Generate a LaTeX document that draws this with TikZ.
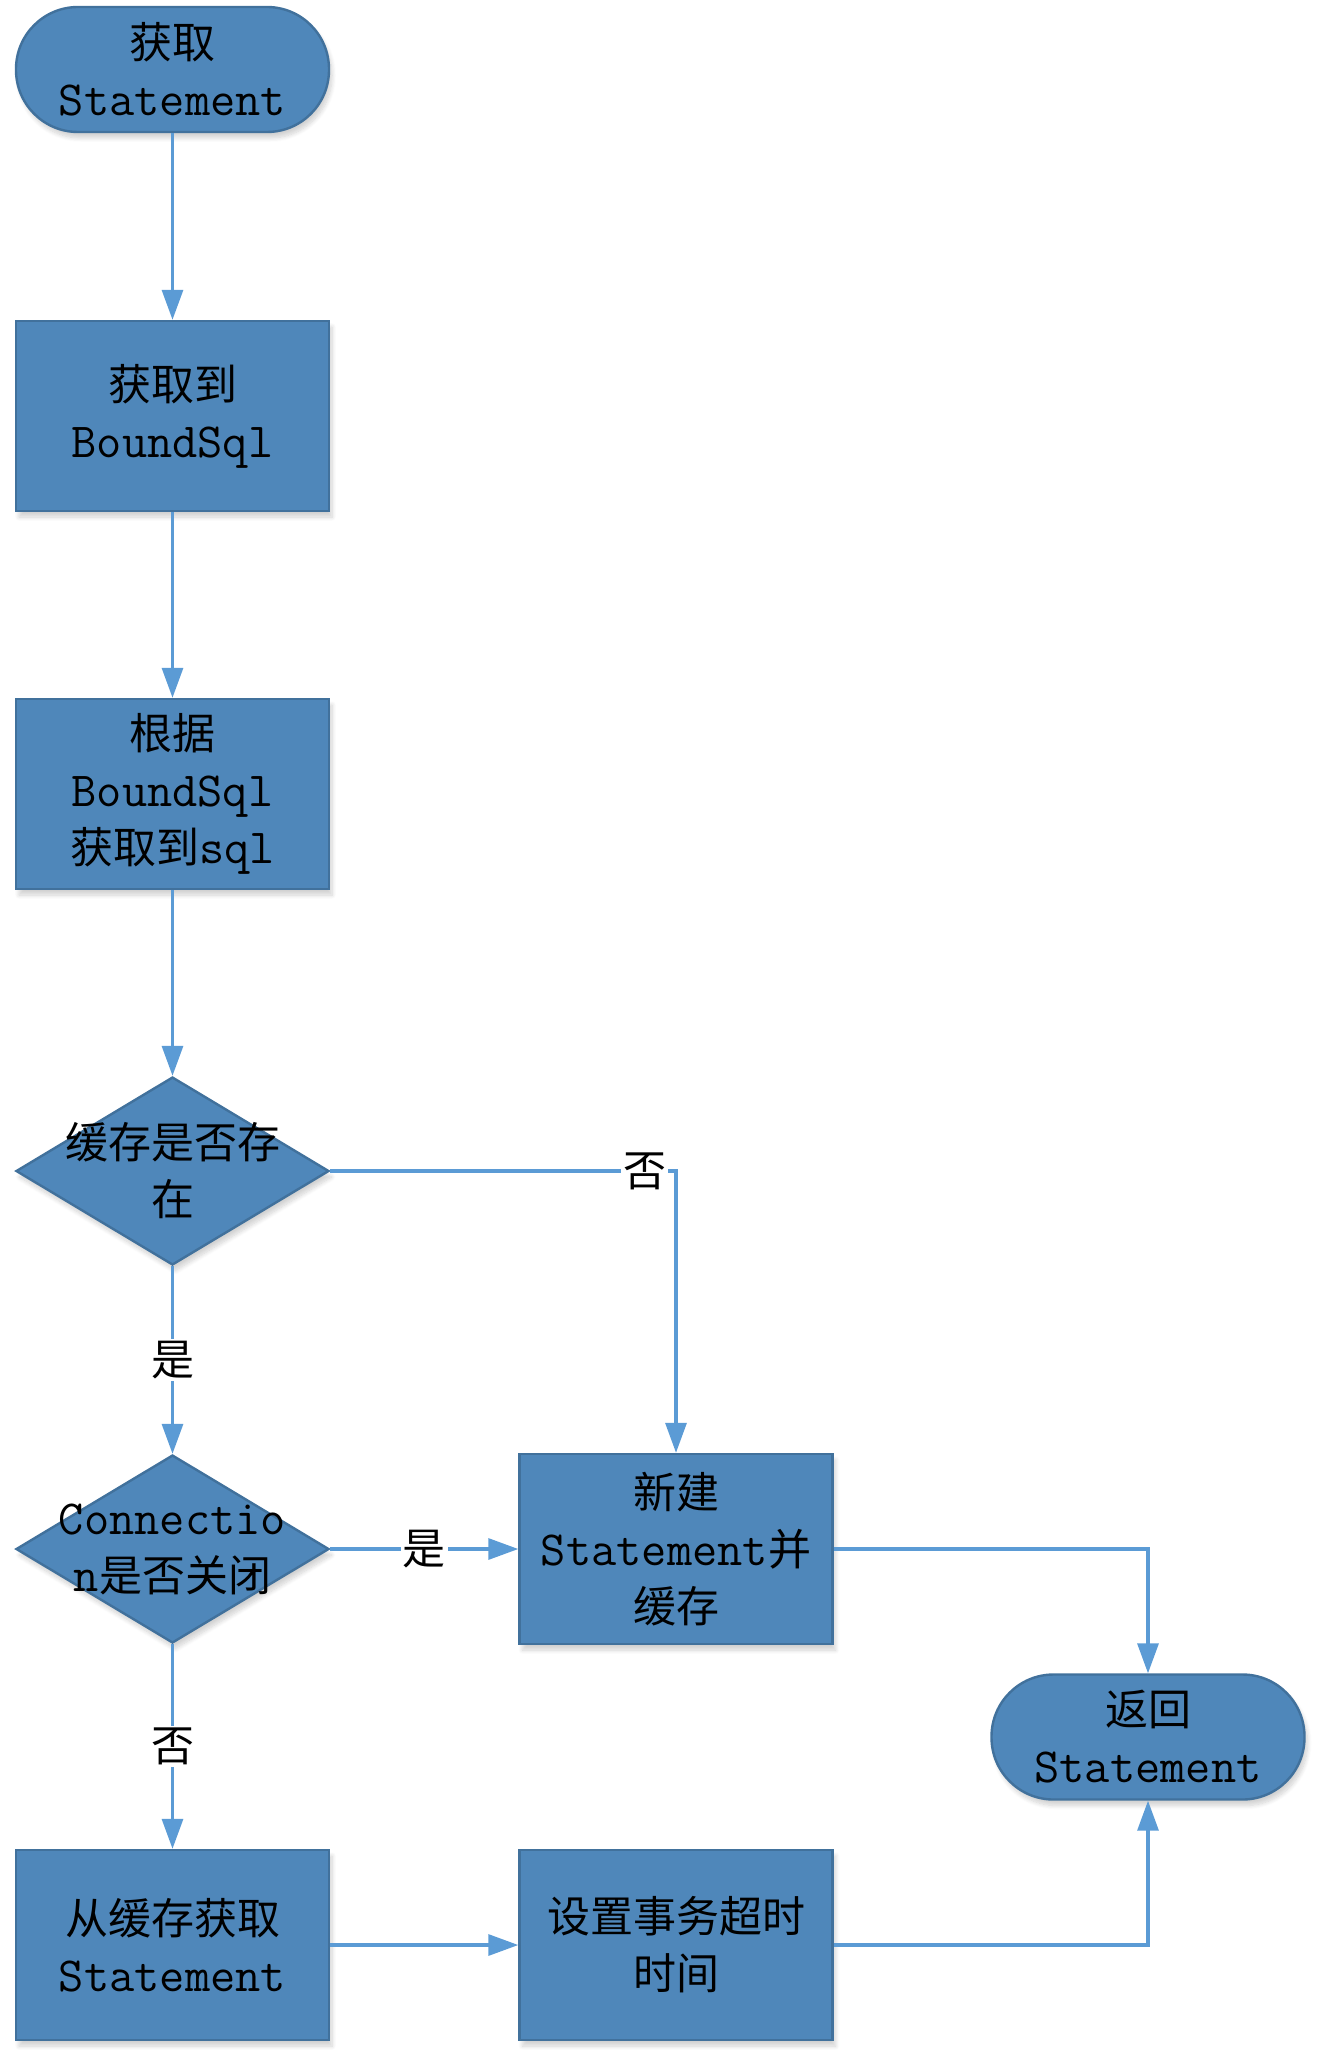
\documentclass[tikz,border=0pt]{standalone}
\usepackage{fontspec}
\setmainfont{Noto Sans CJK SC}
\newcommand\latx[1]{{\fontsize{24.5}{28.5}\selectfont\ttfamily #1}}
\usetikzlibrary{shapes.geometric,arrows.meta,shadows.blur}
\definecolor{boxfill}{HTML}{4F87BA}
\definecolor{boxline}{HTML}{41719C}
\definecolor{arrowc}{HTML}{5B9BD5}
\tikzset{
  nodefont/.style={font=\fontsize{21.5}{28.5}\selectfont},
  base/.style={draw=boxline, fill=boxfill, line width=1.2pt, align=center, nodefont, text=black,
    blur shadow={shadow xshift=1.5pt, shadow yshift=-3pt, shadow opacity=18, shadow blur steps=8}},
  procbox/.style={base, rectangle, minimum width=156.5pt, minimum height=95pt, inner sep=0pt},
  termbox/.style={base, rectangle, rounded corners=31pt, minimum width=156.5pt, minimum height=62.5pt, inner sep=0pt},
  decbox/.style={base, diamond, minimum width=156.5pt, minimum height=94pt, inner sep=0pt},
  dectext/.style={align=center, nodefont, inner sep=0pt},
  conn/.style={draw=arrowc, line width=1.6pt, -{Triangle[length=15pt,width=10.5pt]}},
  lbl/.style={fill=white, inner sep=1pt, nodefont}
}
\begin{document}
\begin{tikzpicture}[x=0.5pt, y=-0.5pt]
\useasboundingbox (0,0) rectangle (1323,2064);
\node[termbox] (start) at (172.5,69.5) {获取\\\latx{Statement}};
\node[procbox] (b1) at (172.5,416) {获取到\\\latx{BoundSql}};
\node[procbox] (b2) at (172.5,794) {根据\\\latx{BoundSql}\\获取到\latx{sql}};
\node[decbox] (d1) at (172.5,1171) {};
\node[dectext] (d1t) at (172.5,1171) {缓存是否存\\在};
\node[decbox] (d2) at (172.5,1549) {};
\node[dectext] (d2t) at (172.5,1549) {\latx{Connectio}\\\latx{n}是否关闭};
\node[procbox] (newb) at (676,1549) {新建\\\latx{Statement}并\\缓存};
\node[termbox] (ret) at (1148,1737) {返回\\\latx{Statement}};
\node[procbox] (cache) at (172.5,1945) {从缓存获取\\\latx{Statement}};
\node[procbox] (timeout) at (676,1945) {设置事务超时\\时间};

\draw[conn] (start) -- (b1);
\draw[conn] (b1) -- (b2);
\draw[conn] (b2) -- (d1);
\draw[conn] (d1.east) -| node[lbl, pos=0.455] {否} (newb.north);
\draw[conn] (d1.south) -- node[lbl] {是} (d2.north);
\draw[conn] (d2.east) -- node[lbl] {是} (newb.west);
\draw[conn] (d2.south) -- node[lbl] {否} (cache.north);
\draw[conn] (newb.east) -| (ret.north);
\draw[conn] (cache) -- (timeout);
\draw[conn] (timeout.east) -| (ret.south);
\end{tikzpicture}
\end{document}
